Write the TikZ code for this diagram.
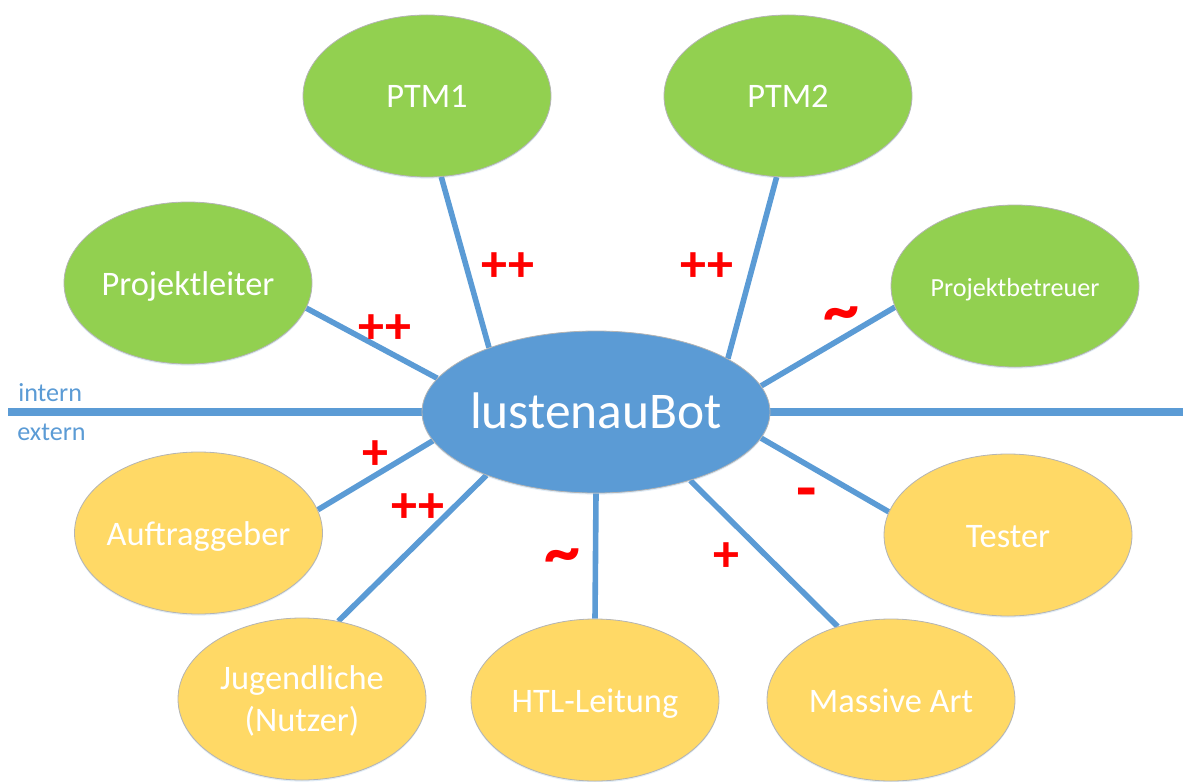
\documentclass[tikz,border=0pt]{standalone}
\usepackage{fontspec}
\setmainfont{Carlito}
\usetikzlibrary{shapes.geometric,backgrounds,shadows}

\definecolor{nodegreen}{HTML}{92D050}
\definecolor{nodeyellow}{HTML}{FFD966}
\definecolor{botblue}{HTML}{5B9BD5}
\definecolor{rimgray}{HTML}{B4B4B4}
\definecolor{ratingred}{HTML}{FF0000}

\begin{document}
\begin{tikzpicture}[x=0.75pt,y=-0.75pt,
  bubble/.style={ellipse, draw=rimgray, line width=0.6pt, inner sep=0pt,
    minimum width=186pt, minimum height=121.5pt,
    drop shadow={shadow xshift=0pt, shadow yshift=-1.2pt, opacity=0.18, fill=botblue}},
  inside/.style={ellipse, draw=rimgray, line width=0.6pt, inner sep=0pt,
    minimum width=261pt, minimum height=121.5pt, fill=botblue,
    drop shadow={shadow xshift=0pt, shadow yshift=-1.2pt, opacity=0.18, fill=botblue}},
  greenbubble/.style={bubble, fill=nodegreen},
  yellowbubble/.style={bubble, fill=nodeyellow},
  caption/.style={text=white, inner sep=0pt, align=center, anchor=base,
    font=\fontsize{25.8}{31.5}\selectfont},
  smallcaption/.style={caption, font=\fontsize{19.6}{24}\selectfont},
  bigcaption/.style={caption, font=\fontsize{38.6}{46}\selectfont},
  zone/.style={text=botblue, inner sep=0pt, anchor=west,
    font=\fontsize{19.6}{24}\selectfont},
  rating/.style={text=ratingred, inner sep=0pt,
    font=\fontsize{39}{42}\selectfont\bfseries},
  tilde/.style={rating, font=\fontsize{54}{56}\selectfont\bfseries},
  link/.style={draw=botblue, line width=4.2pt},
  divider/.style={draw=botblue, line width=6pt}
]
\useasboundingbox (0,0) rectangle (1187,781);

% central system
\node[inside] (bot) at (596,412) {};
\node[bigcaption] (bot-t) at ([yshift=-12pt]bot.center) {lustenauBot};

% internal stakeholders
\node[greenbubble] (ptm1) at (427,96) {};
\node[caption] (ptm1-t) at ([yshift=-9pt]ptm1.center) {PTM1};
\node[greenbubble] (ptm2) at (788,96) {};
\node[caption] (ptm2-t) at ([yshift=-9pt]ptm2.center) {PTM2};
\node[greenbubble] (pl) at (188,283) {};
\node[caption] (pl-t) at ([yshift=-9pt]pl.center) {Projektleiter};
\node[greenbubble] (pb) at (1015,286) {};
\node[smallcaption] (pb-t) at ([yshift=-8pt]pb.center) {Projektbetreuer};

% external stakeholders
\node[yellowbubble] (auf) at (198.5,533) {};
\node[caption] (auf-t) at ([yshift=-9pt]auf.center) {Auftraggeber};
\node[yellowbubble] (tes) at (1008,535) {};
\node[caption] (tes-t) at ([yshift=-9pt]tes.center) {Tester};
\node[yellowbubble] (jug) at (302,699) {};
\node[caption] (jug-t) at ([yshift=-24.5pt]jug.center) {Jugendliche\\(Nutzer)};
\node[yellowbubble] (htl) at (595,700) {};
\node[caption] (htl-t) at ([yshift=-9pt]htl.center) {HTL-Leitung};
\node[yellowbubble] (ma) at (891,700) {};
\node[caption] (ma-t) at ([yshift=-9pt]ma.center) {Massive Art};

% boundary between internal and external
\coordinate (hl) at (8,412);
\coordinate (hr) at (1183,412);
\node[zone] (intern) at (18,392.5) {intern};
\node[zone] (extern) at (17,432) {extern};

% connectors, drawn beneath the bubbles
\begin{pgfonlayer}{background}
  \draw[divider] (hl) -- (bot.center) -- (hr);
  \draw[link] (pl.-12)    -- (bot.168);
  \draw[link] (ptm1.-80)  -- (bot.149.6);
  \draw[link] (ptm2.262.9) -- (bot.22.9);
  \draw[link] (pb.190.2)  -- (bot.9.7);
  \draw[link] (auf.11.9)  -- (bot.190.4);
  \draw[link] (jug.65.8)  -- (bot.210.4);
  \draw[link] (htl.90)    -- (bot.270);
  \draw[link] (ma.126.7)  -- (bot.-36.7);
  \draw[link] (tes.169.6) -- (bot.-9.7);
\end{pgfonlayer}

% relationship ratings
\node[rating] (r-pl)   at (385,329) {++};
\node[rating] (r-ptm1) at (508,267) {++};
\node[rating] (r-ptm2) at (707,267) {++};
\node[tilde]  (r-pb)   at (841,320) {\char`\~};
\node[rating] (r-auf)  at (375,455) {+};
\node[rating] (r-jug)  at (418,508) {++};
\node[tilde]  (r-htl)  at (562,562) {\char`\~};
\node[rating] (r-ma)   at (726,557) {+};
\node[rating, font=\fontsize{50}{52}\selectfont\bfseries] (r-tes) at (807,499) {-};
\end{tikzpicture}
\end{document}
